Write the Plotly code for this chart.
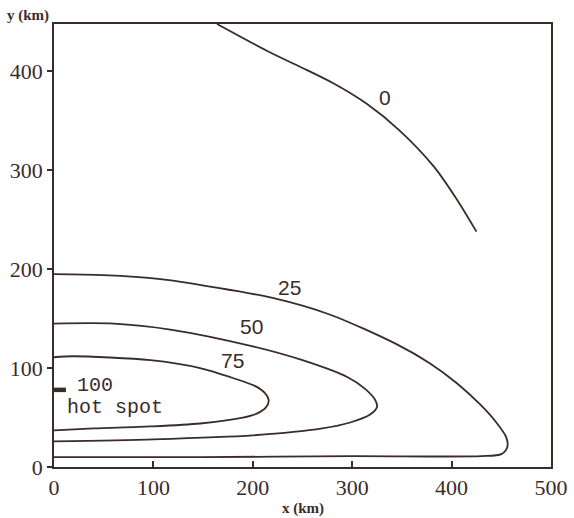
import plotly.graph_objects as go

# contour traces (x km, y km)
c0_x = [164, 214, 247, 281, 315, 348, 382, 405, 425]
c0_y = [448, 421, 405, 388, 367, 340, 304, 271, 238]

c25_x = [0, 50, 107, 160, 220, 278, 345, 378, 405, 429, 445, 455, 456, 450, 430, 300, 150, 0]
c25_y = [195, 194, 190, 182, 171, 154, 124, 105, 85, 63, 45, 30, 20, 13, 11, 11, 10, 10]

c50_x = [0, 60, 117, 200, 250, 295, 313, 323, 325, 318, 298, 270, 200, 100, 0]
c50_y = [145, 145, 139, 122, 108, 91, 79, 68, 61, 53, 45, 39, 32, 28, 26]

c75_x = [0, 19, 97, 147, 180, 202, 212, 216, 213, 204, 190, 147, 97, 40, 0]
c75_y = [111, 112, 108, 100, 90, 82, 75, 67, 60, 54, 50, 44, 41, 39, 37]

hot_x = [0, 12]
hot_y = [78, 78]

labels = ["0", "25", "50", "75"]
label_x = [333, 237, 199, 180]
label_y = [374, 182, 142, 108]

x_ticks = [0, 100, 200, 300, 400, 500]
y_ticks = [0, 100, 200, 300, 400]

ink = "#3b2b2b"

fig = go.Figure()
for xs, ys in [(c0_x, c0_y), (c25_x, c25_y), (c50_x, c50_y), (c75_x, c75_y)]:
    fig.add_trace(go.Scatter(x=xs, y=ys, mode="lines",
                             line=dict(color=ink, width=1.8, shape="spline", smoothing=0.8),
                             hoverinfo="skip", showlegend=False))
fig.add_trace(go.Scatter(x=hot_x, y=hot_y, mode="lines",
                         line=dict(color=ink, width=4.5), showlegend=False, hoverinfo="skip"))

for t, lx, ly in zip(labels, label_x, label_y):
    fig.add_annotation(x=lx, y=ly, text=t, showarrow=False,
                       font=dict(family="Liberation Sans", size=21, color=ink))

fig.add_annotation(x=21, y=82, text="100", showarrow=False, xanchor="left",
                   font=dict(family="Liberation Mono", size=20, color=ink))
fig.add_annotation(x=11, y=60, text="hot spot", showarrow=False, xanchor="left",
                   font=dict(family="Liberation Mono", size=20, color=ink))

fig.add_annotation(xref="paper", yref="paper", x=0, y=1, xshift=-3, yshift=9,
                   text="<b>y (km)</b>", showarrow=False, xanchor="right", yanchor="middle",
                   font=dict(family="Liberation Serif", size=15, color=ink))
fig.add_annotation(xref="paper", yref="paper", x=0.5, y=0, yshift=-41,
                   text="<b>x (km)</b>", showarrow=False, xanchor="center", yanchor="middle",
                   font=dict(family="Liberation Serif", size=15, color=ink))

fig.update_layout(
    width=574, height=518,
    margin=dict(l=54, r=23, t=24, b=51, autoexpand=False),
    paper_bgcolor="white", plot_bgcolor="white",
    font=dict(family="Liberation Serif", size=22, color=ink),
    xaxis=dict(range=[0, 500], tickvals=x_ticks, ticks="inside", ticklen=6,
               tickcolor=ink, tickwidth=1.5, showline=True, linecolor=ink, linewidth=1.8,
               mirror=True, showgrid=False, zeroline=False, automargin=False,
               tickfont=dict(family="Liberation Serif", size=22, color=ink)),
    yaxis=dict(range=[0, 448], tickvals=y_ticks, ticks="outside", ticklen=5,
               tickcolor=ink, tickwidth=1.5, showline=True, linecolor=ink, linewidth=1.8,
               mirror=True, showgrid=False, zeroline=False, automargin=False,
               tickfont=dict(family="Liberation Serif", size=22, color=ink)),
)

fig.write_html("out.html", config={"displayModeBar": False},
               post_script="document.body.style.margin='0px';document.body.style.overflow='hidden';")
